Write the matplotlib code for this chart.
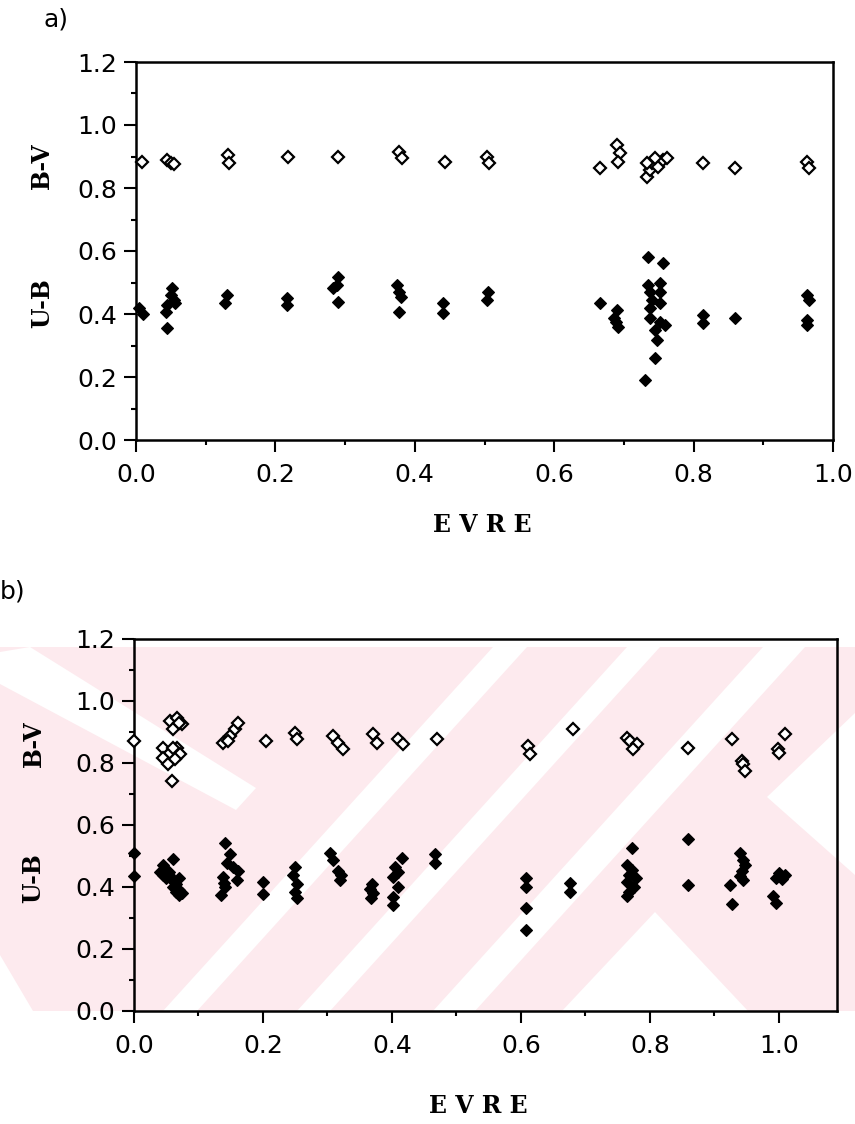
import numpy as np
import matplotlib
matplotlib.use("Agg")
import matplotlib.pyplot as plt
from matplotlib.patches import Polygon
from matplotlib.ticker import MultipleLocator, FormatStrFormatter

W, H = 855, 1124

# --- a) ---
a_bv_phase = [0.009, 0.045, 0.050, 0.055, 0.132, 0.134, 0.218, 0.290, 0.378, 0.382,
              0.443, 0.504, 0.507, 0.666, 0.690, 0.695, 0.692, 0.733, 0.737, 0.740,
              0.749, 0.756, 0.762, 0.745, 0.733, 0.813, 0.859, 0.962, 0.965]
a_bv = [0.883, 0.890, 0.880, 0.875, 0.905, 0.880, 0.898, 0.898, 0.915, 0.895,
        0.882, 0.897, 0.879, 0.863, 0.937, 0.911, 0.883, 0.835, 0.857, 0.879,
        0.867, 0.889, 0.895, 0.895, 0.879, 0.879, 0.863, 0.883, 0.865]

a_ub_phase = [0.005, 0.010, 0.052, 0.050, 0.054, 0.045, 0.043, 0.045, 0.056,
              0.130, 0.128, 0.217, 0.217, 0.290, 0.288, 0.283, 0.290,
              0.375, 0.377, 0.380, 0.378, 0.440, 0.440, 0.505, 0.503,
              0.666, 0.690, 0.686, 0.692, 0.688,
              0.735, 0.756, 0.735, 0.752, 0.737, 0.752, 0.740, 0.737, 0.752,
              0.737, 0.752, 0.759, 0.745, 0.747, 0.745, 0.730,
              0.813, 0.813, 0.860, 0.963, 0.965, 0.963, 0.963]
a_ub = [0.420, 0.400, 0.483, 0.460, 0.444, 0.429, 0.406, 0.356, 0.435,
        0.460, 0.435, 0.451, 0.429, 0.517, 0.492, 0.483, 0.438,
        0.492, 0.470, 0.454, 0.406, 0.435, 0.403, 0.470, 0.444,
        0.435, 0.413, 0.387, 0.359, 0.375,
        0.581, 0.562, 0.492, 0.498, 0.470, 0.470, 0.444, 0.419, 0.435,
        0.387, 0.375, 0.365, 0.349, 0.317, 0.260, 0.190,
        0.397, 0.371, 0.387, 0.460, 0.444, 0.381, 0.365]

# --- b) ---
b_bv_phase = [0.000, 0.056, 0.067, 0.074, 0.060, 0.070,
              0.045, 0.056, 0.067, 0.045, 0.053, 0.071, 0.064, 0.060, 0.059,
              0.138, 0.149, 0.157, 0.161, 0.145, 0.205, 0.250, 0.253,
              0.309, 0.316, 0.324, 0.371, 0.377, 0.410, 0.417, 0.470,
              0.611, 0.614, 0.680, 0.764, 0.769, 0.780, 0.774, 0.859,
              0.927, 0.943, 0.944, 0.947, 0.998, 1.000, 1.009]
b_bv = [0.871, 0.936, 0.945, 0.926, 0.910, 0.930,
        0.849, 0.833, 0.849, 0.817, 0.797, 0.830, 0.813, 0.850, 0.743,
        0.865, 0.887, 0.910, 0.929, 0.870, 0.871, 0.897, 0.878,
        0.887, 0.865, 0.846, 0.894, 0.865, 0.878, 0.862, 0.878,
        0.855, 0.830, 0.910, 0.881, 0.871, 0.862, 0.846, 0.849,
        0.878, 0.807, 0.797, 0.775, 0.846, 0.833, 0.894]

b_ub_phase = [0.000, 0.000,
              0.045, 0.050, 0.055, 0.050, 0.060, 0.065, 0.060, 0.070, 0.070, 0.065,
              0.055, 0.060, 0.045, 0.040, 0.075, 0.070,
              0.141, 0.149, 0.144, 0.153, 0.161, 0.138, 0.141, 0.160, 0.135, 0.140,
              0.200, 0.200, 0.250, 0.247, 0.253, 0.250, 0.253,
              0.304, 0.309, 0.316, 0.319, 0.321,
              0.369, 0.366, 0.370, 0.368,
              0.415, 0.405, 0.402, 0.410, 0.402, 0.402, 0.410,
              0.467, 0.467, 0.608, 0.608, 0.608, 0.608, 0.676, 0.676,
              0.772, 0.765, 0.772, 0.768, 0.778, 0.765, 0.775, 0.768, 0.765,
              0.859, 0.859,
              0.940, 0.944, 0.943, 0.944, 0.924, 0.927, 0.947, 0.940,
              1.000, 1.005, 0.995, 0.990, 0.995, 1.010]
b_ub = [0.511, 0.437,
        0.470, 0.455, 0.440, 0.430, 0.420, 0.410, 0.400, 0.390, 0.375, 0.385,
        0.450, 0.490, 0.440, 0.450, 0.380, 0.430,
        0.543, 0.508, 0.476, 0.463, 0.453, 0.431, 0.399, 0.421, 0.373, 0.412,
        0.415, 0.379, 0.463, 0.440, 0.410, 0.385, 0.365,
        0.511, 0.486, 0.453, 0.421, 0.440,
        0.410, 0.395, 0.380, 0.365,
        0.492, 0.463, 0.431, 0.399, 0.367, 0.341, 0.450,
        0.508, 0.479, 0.428, 0.399, 0.331, 0.260, 0.412, 0.383,
        0.527, 0.470, 0.455, 0.440, 0.430, 0.415, 0.400, 0.385, 0.370,
        0.556, 0.405,
        0.511, 0.486, 0.453, 0.421, 0.405, 0.345, 0.470, 0.435,
        0.445, 0.425, 0.430, 0.370, 0.350, 0.440]

tick_font = {"family": "DejaVu Sans", "size": 18}
label_font = {"family": "DejaVu Serif", "weight": "bold", "size": 17}

fig = plt.figure(figsize=(W / 100, H / 100), dpi=100)


def px(x, y):
    return (x / W, 1 - y / H)


def band(pts, color):
    p = Polygon([px(*q) for q in pts], closed=True, transform=fig.transFigure,
                facecolor=color, edgecolor="none", zorder=-5)
    fig.add_artist(p)


# pale background stamp behind the lower panel
pink = "#fdeaee"
band([(0, 647), (855, 647), (855, 1011), (0, 1011)], pink)
band([(0, 652), (0, 684), (236, 810), (256, 788), (30, 647)], "white")
for top_l, top_r in [(493, 527), (627, 660), (763, 805)]:
    band([(top_l, 647), (top_r, 647), (top_r - 330, 1011), (top_l - 330, 1011)], "white")
band([(562, 1011), (655, 912), (748, 1011)], "white")
band([(767, 797), (855, 713), (855, 875)], "white")
band([(0, 1011), (33, 1011), (0, 955)], "white")


def setup(ax, xmax):
    ax.set_xlim(0, xmax)
    ax.set_ylim(0, 1.2)
    ax.xaxis.set_major_locator(MultipleLocator(0.2))
    ax.xaxis.set_minor_locator(MultipleLocator(0.1))
    ax.yaxis.set_major_locator(MultipleLocator(0.2))
    ax.yaxis.set_minor_locator(MultipleLocator(0.1))
    ax.xaxis.set_major_formatter(FormatStrFormatter("%.1f"))
    ax.yaxis.set_major_formatter(FormatStrFormatter("%.1f"))
    ax.tick_params(which="major", direction="out", length=8.5, width=1.5,
                   top=False, right=False, pad=5)
    ax.tick_params(axis="x", which="major", pad=8)
    ax.tick_params(which="minor", direction="out", length=3.5, width=1.5,
                   top=False, right=False)
    for lab in ax.get_xticklabels() + ax.get_yticklabels():
        lab.set_fontfamily(tick_font["family"])
        lab.set_fontsize(tick_font["size"])
    for s in ax.spines.values():
        s.set_linewidth(1.8)
    ax.set_facecolor("none")


def draw(ax, bv_x, bv_y, ub_x, ub_y):
    ax.plot(bv_x, bv_y, ls="none", marker="D", ms=6.5, mfc="white", mec="black",
            mew=1.6, clip_on=False, zorder=3)
    ax.plot(ub_x, ub_y, ls="none", marker="D", ms=6.5, mfc="black", mec="black",
            mew=0.8, clip_on=False, zorder=3)


ax_a = fig.add_axes([136 / W, 1 - 440 / H, 697 / W, 378 / H])
setup(ax_a, 1.0)
draw(ax_a, a_bv_phase, a_bv, a_ub_phase, a_ub)

ax_b = fig.add_axes([134 / W, 1 - 1011 / H, 703 / W, 372 / H])
setup(ax_b, 1.09)
draw(ax_b, b_bv_phase, b_bv, b_ub_phase, b_ub)

# panel letters, axis titles
fig.text(*px(43, 20), "a)", fontsize=18, family="DejaVu Sans", va="center", ha="left")
fig.text(*px(0, 592), "b)", fontsize=18, family="DejaVu Sans", va="center", ha="left")

fig.text(*px(482, 525), "E V R E", ha="center", va="center", **label_font)
fig.text(*px(478, 1106), "E V R E", ha="center", va="center", **label_font)

fig.text(*px(42, 166), "B-V", rotation=90, ha="center", va="center", **label_font)
fig.text(*px(42, 303), "U-B", rotation=90, ha="center", va="center", **label_font)
fig.text(*px(34, 744), "B-V", rotation=90, ha="center", va="center", **label_font)
fig.text(*px(33, 878), "U-B", rotation=90, ha="center", va="center", **label_font)

fig.savefig("out.png", dpi=100, facecolor="white")
